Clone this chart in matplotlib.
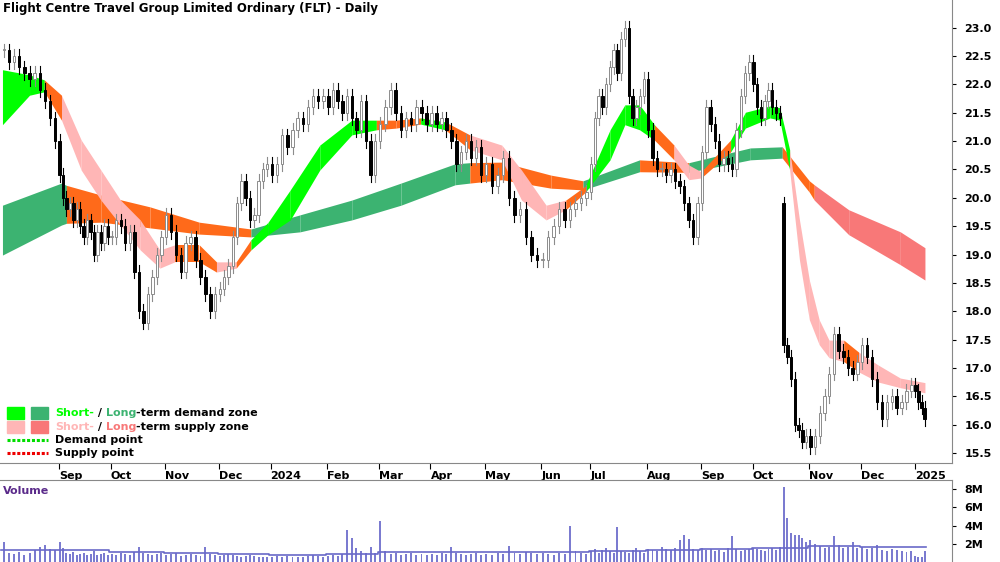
import numpy as np
import pandas as pd
import matplotlib
matplotlib.use("Agg")
import matplotlib.pyplot as plt
from matplotlib.patches import Rectangle

title = "Flight Centre Travel Group Limited Ordinary (FLT) - Daily"
months = ['2023-08','2023-09','2023-10','2023-11','2023-12','2024-01','2024-02','2024-03','2024-04',
          '2024-05','2024-06','2024-07','2024-08','2024-09','2024-10','2024-11','2024-12','2025-01']
closes = [
 [22.6,22.4,22.5,22.3,22.2,22.1,22.2,21.9,21.7,21.4,21.0],
 [20.4,20.0,19.8,19.9,19.6,19.8,19.5,19.3,19.6,19.4,19.0,19.4,19.2,19.5,19.3],
 [19.3,19.6,19.5,19.2,19.4,18.7,18.0,17.8,18.3,18.6,19.0,19.3],
 [19.7,19.4,19.0,18.7,19.2,19.3,18.9,18.6,18.3,18.0,18.3],
 [18.4,18.6,18.8,19.3,19.9,20.3,20.0,19.6,19.7,20.3,20.5,20.6],
 [20.4,20.6,21.1,20.9,21.2,21.4,21.3,21.6,21.8,21.7,21.8],
 [21.6,21.9,21.7,21.5,21.8,21.4,21.2,21.7,21.0,20.4,21.0],
 [21.3,21.6,21.9,21.5,21.2,21.4,21.3,21.6,21.5,21.3],
 [21.5,21.3,21.4,21.2,21.0,20.6,20.8,21.0,20.7,20.9,20.4],
 [20.6,20.2,20.4,20.7,20.0,19.7,19.8,19.3,19.0,18.9],
 [18.9,19.3,19.5,19.8,19.6,19.8,19.9,20.0,20.1],
 [20.6,21.4,21.8,21.6,22.0,22.3,22.6,22.2,22.8,23.0,21.8,21.4,21.6,21.8,22.1],
 [21.2,20.7,20.5,20.5,20.4,20.5,20.3,20.2,19.9,19.6,19.3,19.9],
 [20.8,21.6,21.3,21.0,20.6,20.7,20.6,20.5,21.2,21.8,22.2,22.4],
 [22.0,21.6,21.4,21.7,21.9,21.6,21.5,21.4,17.4,17.2,16.8,16.0,15.9,15.7,15.8],
 [15.6,15.8,16.2,16.5,16.9,17.6,17.3,17.2,17.0,16.9,17.1],
 [17.4,17.2,16.8,16.4,16.1,16.4,16.5,16.3,16.4,16.6,16.7],
 [16.6,16.4,16.3,16.1],
]
volumes = [
 [2.2,1.0,0.9,1.1,0.8,1.0,1.3,1.6,1.9,1.4,1.3],
 [2.2,1.5,1.0,0.9,1.1,0.8,0.9,1.0,0.8,0.9,1.2,0.8,0.9,1.0,0.8],
 [0.9,0.8,1.0,0.9,0.8,1.1,1.6,1.0,0.9,0.8,0.9,1.0],
 [0.8,0.9,1.0,0.7,0.8,0.9,0.8,0.7,1.6,0.9,0.8],
 [0.7,0.8,0.9,0.8,0.7,0.6,0.7,0.8,0.7,0.6,0.6,0.5],
 [0.6,0.7,0.6,0.7,0.6,0.5,0.6,0.7,0.8,0.7,0.6],
 [0.7,0.8,0.7,0.9,3.5,2.6,1.5,1.2,1.0,1.6,1.0],
 [4.5,1.2,0.9,1.0,0.8,0.9,1.0,0.8,0.9,0.8],
 [0.9,0.8,1.0,0.9,1.7,1.0,0.9,0.8,0.9,1.0,0.8],
 [0.9,0.8,1.0,0.9,1.8,1.0,0.9,1.1,1.0,0.9],
 [1.0,0.9,0.8,1.0,0.9,3.9,1.2,1.0,0.9],
 [1.2,1.4,1.0,1.3,1.5,1.2,1.0,3.8,1.2,1.1,1.0,1.3,1.5,1.2,1.0],
 [1.4,1.3,1.2,1.6,1.4,1.3,1.5,2.4,3.0,2.5,1.4,1.3],
 [1.5,1.3,1.4,1.2,1.3,1.1,1.5,2.8,1.4,1.2,1.3,1.4],
 [1.5,1.4,1.3,1.2,1.4,1.5,1.3,1.6,8.2,4.8,3.2,3.0,3.0,2.6,2.2],
 [2.4,2.0,1.8,1.5,1.6,2.8,1.9,1.5,1.6,2.2,1.5],
 [1.6,1.4,1.5,1.9,1.3,1.2,1.4,1.3,1.2,1.1,1.2],
 [0.7,0.5,0.6,1.2],
]
vol_avg = [1.3,1.3,1.1,1.0,0.9,0.8,0.9,1.1,1.1,1.1,1.1,1.2,1.3,1.4,1.5,1.8,1.7,1.6]
gap_open_month, gap_open_pos, gap_open_value = '2024-10', 8, 19.9

# zone bands: (trading-day index, upper, lower, kind)
st_t = [0,11,17,24,32,40,48,56,64,70,80,87,95,101,108,117,129,142,152,160,170,180,190,203,211,221,229,237,247,253,259,265,273,279,284,296,302,312,316,320,324,328,332,336,342,348,356,365,375]
st_hi = [22.26,22.17,22.08,21.81,21.02,20.49,19.96,19.61,19.08,19.17,19.17,18.87,18.87,19.26,19.57,20.14,20.93,21.37,21.37,21.37,21.41,21.34,21.11,20.93,20.49,19.87,19.96,20.21,21.20,21.64,21.64,21.29,20.93,20.58,20.46,21.02,21.51,21.62,21.59,20.85,19.61,18.55,17.85,17.49,17.49,17.28,17.05,16.82,16.74]
st_lo = [21.29,21.81,21.87,21.37,20.49,19.96,19.52,19.08,18.76,18.87,18.87,18.69,18.76,19.08,19.35,19.61,20.49,21.11,21.20,21.23,21.30,21.20,20.85,20.67,19.96,19.61,19.79,20.10,20.67,21.29,21.20,21.02,20.67,20.32,20.35,20.81,21.23,21.41,21.37,20.49,18.90,17.85,17.41,17.18,17.11,16.93,16.75,16.65,16.56]
st_kind = ['G','G','O','P','P','P','P','P','P','O','O','P','O','G','G','G','G','G','O','O','G','O','P','P','P','P','O','G','G','G','G','O','P','P','O','G','G','G','G','P','P','P','P','P','O','P','P','P','P']
lt_t = [0,24,26,40,60,80,101,121,142,162,184,190,203,223,236,259,279,304,317,328,330,344,365,375]
lt_hi = [19.87,20.26,20.22,20.05,19.84,19.57,19.45,19.70,19.96,20.26,20.60,20.62,20.63,20.40,20.30,20.67,20.62,20.88,20.90,20.30,20.23,19.79,19.40,19.12]
lt_lo = [18.99,19.52,19.55,19.57,19.47,19.36,19.31,19.40,19.61,19.87,20.23,20.26,20.32,20.17,20.14,20.46,20.45,20.67,20.70,20.10,19.96,19.35,18.82,18.55]
lt_kind = ['L','L','O','O','O','O','L','L','L','L','L','O','O','O','L','O','L','L','O','O','R','R','R','R']
zone_colors = {'G':'#00ff00','P':'#ffb6b6','O':'#ff6a1a','L':'#3cb371','R':'#f87878'}

# ---- build per-bar series
dates = pd.bdate_range('2023-08-01','2025-01-07')
month_of = np.array([d.strftime('%Y-%m') for d in dates])
xs, cl, vo, op = [], [], [], []
prev = closes[0][0]
for mi, m in enumerate(months):
    idx = np.where(month_of == m)[0]
    n = len(closes[mi])
    start, length = idx[0], len(idx)
    for k in range(n):
        xs.append(start + (k + 0.5) * length / n - 0.5)
        c = closes[mi][k]
        o = gap_open_value if (m == gap_open_month and k == gap_open_pos) else prev
        op.append(o); cl.append(c); vo.append(volumes[mi][k])
        prev = c
xs = np.array(xs); cl = np.array(cl); op = np.array(op); vo = np.array(vo)

fig = plt.figure(figsize=(10, 5.62), dpi=100)
ax = fig.add_axes([0.0, 0.176, 0.952, 0.824])
axv = fig.add_axes([0.0, 0.0, 0.952, 0.146])

def draw_band(t, hi, lo, kind):
    for i in range(len(t) - 1):
        ax.fill_between(t[i:i+2], lo[i:i+2], hi[i:i+2], color=zone_colors[kind[i]], lw=0, zorder=1)
draw_band(lt_t, lt_hi, lt_lo, lt_kind)
draw_band(st_t, st_hi, st_lo, st_kind)

w = 1.0
for x, o, c in zip(xs, op, cl):
    up = c >= o
    col = '#8c8c8c' if up else 'black'
    hi = max(o, c) + 0.12
    lo = min(o, c) - 0.12
    ax.plot([x, x], [lo, hi], color=col, lw=0.8, zorder=3)
    ax.add_patch(Rectangle((x - w/2, min(o, c)), w, max(abs(c - o), 0.02),
                           facecolor='white' if up else 'black', edgecolor=col, lw=0.7, zorder=4))

N = len(dates)
ax.set_xlim(-1, 386)
ax.set_ylim(15.32, 23.49)
ax.yaxis.tick_right()
yt = np.arange(15.5, 23.01, 0.5)
ax.set_yticks(yt)
ax.set_yticklabels([f"{v:.1f}" for v in yt], fontsize=8, fontweight='bold')
ax.tick_params(axis='y', direction='out', length=3, pad=6)
month_starts = [i for i in range(1, N) if dates[i].month != dates[i-1].month]
labels = [('2024' if dates[i].month == 1 and dates[i].year == 2024 else '2025' if dates[i].month == 1 else dates[i].strftime('%b')) for i in month_starts]
ax.set_xticks(month_starts)
ax.set_xticklabels(labels, fontsize=8, fontweight='bold', ha='left')
ax.tick_params(axis='x', direction='out', length=4, pad=2)
for s in ['top', 'left']:
    ax.spines[s].set_visible(False)
ax.spines['right'].set_color('#888888'); ax.spines['bottom'].set_color('#888888')
ax.text(0.003, 0.995, title, transform=ax.transAxes, fontsize=8.5, fontweight='bold', va='top')

# legend
fx = lambda px: px / (0.952 * 1000)
fy = lambda py: 1 - py / 463
lg = [('#00ff00', '#3cb371', 413, 'demand zone'), ('#ffb6b6', '#f87878', 427, 'supply zone')]
for c1, c2, py, word in lg:
    ax.add_patch(Rectangle((fx(7), fy(py + 6)), fx(17), 12/463, transform=ax.transAxes, color=c1, zorder=5))
    ax.add_patch(Rectangle((fx(31), fy(py + 6)), fx(17), 12/463, transform=ax.transAxes, color=c2, zorder=5))
    t1 = ax.text(fx(55), fy(py), "Short-", color=c1, fontsize=8, fontweight='bold', va='center', transform=ax.transAxes)
    t2 = ax.annotate(" / ", xycoords=t1, xy=(1, 0), va='bottom', fontsize=8, fontweight='bold')
    t3 = ax.annotate("Long", xycoords=t2, xy=(1, 0), va='bottom', fontsize=8, fontweight='bold', color=c2)
    ax.annotate("-term " + word, xycoords=t3, xy=(1, 0), va='bottom', fontsize=8, fontweight='bold')
for col, py, txt in [('#00dd00', 440, 'Demand point'), ('#ee0000', 453, 'Supply point')]:
    ax.plot([fx(7), fx(48)], [fy(py), fy(py)], transform=ax.transAxes, color=col, lw=2.2, ls=(0, (1, 0.6)))
    ax.text(fx(55), fy(py), txt, fontsize=8, fontweight='bold', va='center', transform=ax.transAxes)

# volume
axv.bar(xs, vo, width=0.8, color='#7b7bd0', zorder=2)
avg_x, avg_y = [], []
for mi, m in enumerate(months):
    idx = np.where(month_of == m)[0]
    avg_x += [idx[0] - 0.5, idx[-1] + 0.5]; avg_y += [vol_avg[mi]] * 2
axv.plot(avg_x, avg_y, color='#6a6ac8', lw=1.2, zorder=3)
axv.set_xlim(ax.get_xlim())
axv.set_ylim(0, 9.0)
axv.yaxis.tick_right()
axv.set_yticks([2, 4, 6, 8])
axv.set_yticklabels(['2M', '4M', '6M', '8M'], fontsize=8, fontweight='bold')
axv.tick_params(axis='y', direction='out', length=3, pad=6)
axv.set_xticks([])
for s in ['left', 'bottom']:
    axv.spines[s].set_visible(False)
axv.spines['right'].set_color('#888888'); axv.spines['top'].set_color('#888888')
axv.text(0.003, 0.93, 'Volume', transform=axv.transAxes, fontsize=8, fontweight='bold', color='#5a2a8a', va='top')

fig.savefig('out.png', dpi=100)
